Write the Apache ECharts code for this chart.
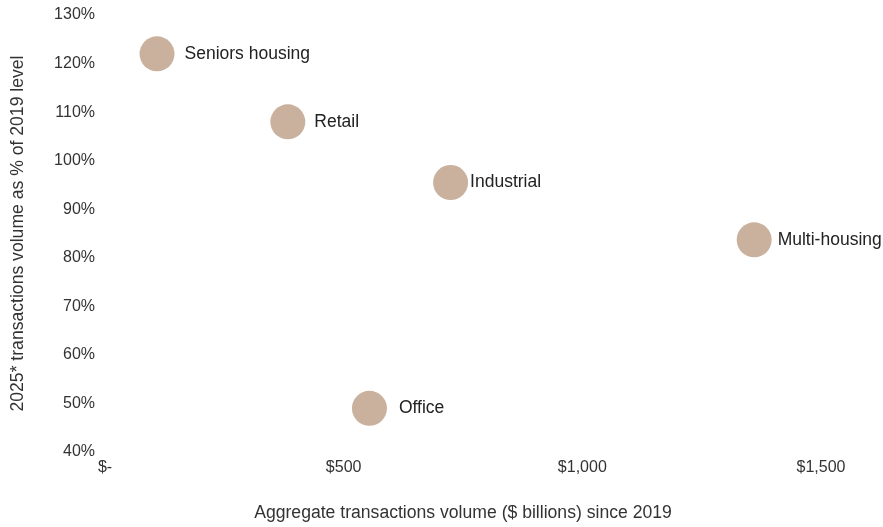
<!DOCTYPE html>
<html>
<head>
<meta charset="utf-8">
<script src="https://cdn.jsdelivr.net/npm/echarts@6/dist/echarts.min.js"></script>
<style>
	html, body { margin: 0; padding: 0; background: #fff; }
	#main { width: 883px; height: 527px; }
</style>
</head>
<body>
<div id="main"></div>
<script>
// sectors, aggregate volume since 2019 ($bn), 2025 volume as % of 2019
var sectors = ['Seniors housing', 'Retail', 'Industrial', 'Multi-housing', 'Office'];
var aggVolume = [109, 383, 724, 1360, 554];
var pctOf2019 = [122, 108, 95.5, 83.7, 49];
var labelGap = [10, 9, 2, 6, 12];

var pointData = [];
for (var i = 0; i < sectors.length; i++) {
	pointData.push({
		name: sectors[i],
		value: [aggVolume[i], pctOf2019[i]],
		label: { distance: labelGap[i] }
	});
}

var option = {
	animation: false,
	textStyle: { fontFamily: 'Liberation Sans, Arial, sans-serif' },
	grid: {
		left: 105,
		right: 62,
		top: 15,
		bottom: 75
	},
	xAxis: {
		type: 'value',
		min: 0,
		max: 1500,
		interval: 500,
		name: 'Aggregate transactions volume ($ billions) since 2019',
		nameLocation: 'middle',
		nameGap: 52,
		nameTextStyle: { fontSize: 17.6, color: '#333' },
		axisLine: { show: false },
		axisTick: { show: false },
		splitLine: { show: false },
		axisLabel: {
			fontSize: 16,
			color: '#333',
			margin: 8,
			formatter: function (v) {
				if (v === 0) return '$-';
				return '$' + v.toLocaleString('en-US');
			}
		}
	},
	yAxis: {
		type: 'value',
		min: 40,
		max: 130,
		interval: 10,
		name: '2025* transactions volume as % of 2019 level',
		nameLocation: 'middle',
		nameGap: 78,
		nameTextStyle: { fontSize: 17.6, color: '#333' },
		axisLine: { show: false },
		axisTick: { show: false },
		splitLine: { show: false },
		axisLabel: {
			fontSize: 16,
			color: '#333',
			margin: 10,
			formatter: '{value}%'
		}
	},
	series: [{
		type: 'scatter',
		symbolSize: 35,
		itemStyle: { color: '#c9b19d', opacity: 1 },
		label: {
			show: true,
			position: 'right',
			fontSize: 17.5,
			color: '#222',
			formatter: '{b}'
		},
		data: pointData
	}]
};

var myChart = echarts.init(document.getElementById('main'));
myChart.setOption(option);
</script>
</body>
</html>
